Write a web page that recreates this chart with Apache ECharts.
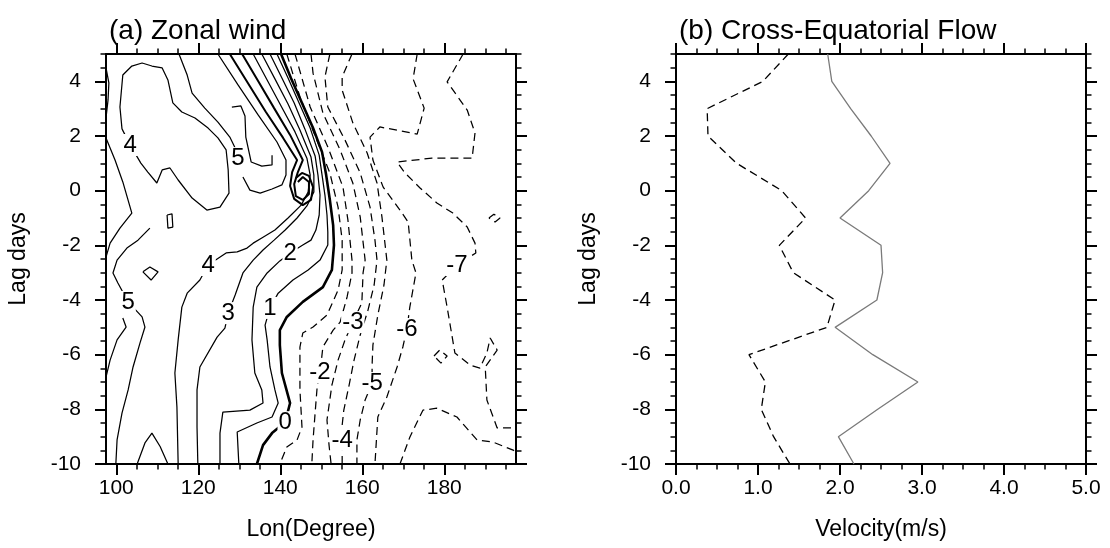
<!DOCTYPE html>
<html><head><meta charset="utf-8">
<script src="https://cdn.jsdelivr.net/npm/echarts@6/dist/echarts.min.js"></script>
<style>html,body{margin:0;padding:0;background:#fff}#c{width:1110px;height:548px}</style>
</head><body><div id="c"></div>
<script>
// ---------- tick labels ----------
const lonTicks = [100, 120, 140, 160, 180];
const lagTicks = [-10, -8, -6, -4, -2, 0, 2, 4];
const velTicks = [0, 1, 2, 3, 4, 5];

// ---------- panel (b): cross-equatorial flow ----------
const lagDays    = [5, 4, 3, 2, 1, 0, -1, -2, -3, -4, -5, -6, -7, -8, -9, -10];
const flowDashed = [1.37, 1.06, 0.38, 0.39, 0.74, 1.29, 1.58, 1.26, 1.43, 1.94, 1.84, 0.89, 1.09, 1.04, 1.19, 1.39];
const flowSolid  = [1.85, 1.90, 2.13, 2.38, 2.61, 2.35, 2.00, 2.50, 2.52, 2.45, 1.94, 2.40, 2.95, 2.46, 1.98, 2.17];

// ---------- panel (a): zonal wind contour lines [lon, lag] ----------
const c0 = [[140.2,5],[142.6,4.12],[145.3,3.21],[148.0,2.29],[150.2,1.41],[151.2,0.57],[152.1,-0.34],[152.9,-1.26],[153.1,-1.99],[152.6,-2.90],[150.4,-3.53],[145.5,-4.07],[141.6,-4.62],[139.9,-5.10],[139.9,-5.65],[140.4,-6.67],[142.4,-7.77],[141.2,-8.47],[138.0,-8.87],[135.8,-9.31],[134.3,-10]];
const c1 = [[139.2,5],[141.9,4.12],[144.6,3.21],[147.3,2.29],[149.5,1.30],[150.2,0.57],[150.9,-0.16],[151.4,-0.89],[151.6,-1.51],[151.6,-1.99],[149.7,-2.54],[146.8,-2.90],[143.1,-3.27],[139.5,-3.75],[137.5,-4.29],[136.3,-4.92],[136.8,-5.46],[137.5,-6.45],[138.7,-7.29],[139.5,-7.77],[138.0,-8.28],[134.3,-8.50],[129.5,-8.83],[129.7,-9.42],[129.9,-10]];
const c2 = [[137.5,5],[140.4,4.12],[143.4,3.21],[146.0,2.26],[148.5,1.27],[149.2,0.57],[149.7,-0.16],[149.5,-0.89],[148.7,-1.44],[147.5,-1.81],[145.5,-1.99],[142.4,-2.28],[139.9,-2.57],[136.8,-3.01],[134.3,-3.53],[133.4,-4.26],[133.1,-5.46],[133.8,-6.67],[135.5,-7.29],[135.8,-7.77],[132.6,-8.03],[126.0,-8.10],[125.3,-8.87],[125.3,-10]];
const c3 = [[135.5,5],[138.7,4.09],[141.9,3.17],[144.8,2.22],[147.5,1.23],[148.2,0.57],[148.2,-0.05],[146.5,-0.56],[144.1,-1.0],[141.2,-1.44],[138.5,-1.81],[135.8,-2.17],[133.4,-2.54],[130.9,-3.01],[129.0,-3.82],[127.3,-4.48],[126.5,-5.03],[124.6,-5.36],[120.4,-6.45],[119.7,-7.29],[119.7,-8.65],[119.9,-10]];
const c4 = [[133.4,5],[136.8,4.05],[140.2,3.10],[143.6,2.15],[146.5,1.19],[147.3,0.57],[146.8,-0.05],[145.1,-0.53],[141.9,-1.0],[138.7,-1.44],[135.5,-1.73],[133.4,-1.92],[131.9,-2.10],[129.5,-2.24],[126.8,-2.28],[122.4,-2.72],[120.4,-3.27],[117.3,-3.75],[116.0,-4.26],[115.1,-5.46],[114.3,-6.67],[114.8,-7.92],[115.1,-10]];
const c5 = [[130.7,5],[134.6,4.01],[138.5,3.02],[142.4,2.04],[145.5,1.12],[144.3,0.68],[143.4,0.24],[143.8,-0.20],[145.5,-0.34],[147.0,-0.12],[147.0,0.32],[145.5,0.50],[144.3,0.32]];
const c6 = [[127.7,5],[132.1,3.94],[136.5,2.88],[140.7,1.93],[144.1,1.12],[142.9,0.68],[142.4,0.17],[143.4,-0.30],[145.5,-0.53],[147.5,-0.34],[148.0,0.13],[147.0,0.54],[145.3,0.65],[143.8,0.46]];
const c7 = [[124.8,5],[129.7,3.87],[134.6,2.77],[139.2,1.78],[141.4,1.12],[141.4,0.57],[140.4,0.21],[138.0,0.06],[135.1,-0.09],[132.6,0.02],[130.9,0.50]];
const c5top = [[115.3,5],[117.3,4.23],[118.5,3.57],[121.6,3.02],[124.8,2.51],[127.7,1.96],[129.0,1.56]];
const c4loop = [[101.4,2.26],[100.9,3.06],[101.6,4.23],[103.8,4.56],[106.3,4.67],[108.7,4.56],[111.2,4.49],[112.6,4.05],[113.8,3.21],[116.0,2.88],[119.2,2.66],[122.4,2.29],[124.8,1.93],[126.8,1.49],[127.3,0.76],[127.5,-0.09],[125.3,-0.60],[122.1,-0.71],[118.5,-0.27],[115.1,0.39],[113.1,0.83],[111.2,0.76],[109.9,0.28],[107.7,0.68],[106.0,1.01],[104.1,1.49],[103.4,1.67],[101.4,2.26]];
const c5small = [[128.2,3.06],[130.4,3.10],[131.4,2.73],[131.6,1.96],[132.9,1.05],[135.5,0.90],[138.0,0.94],[138.0,1.30]];
const cArc = [[97.5,4.49],[98.2,3.94],[98.0,3.32],[97.5,2.66]];
const cW1 = [[97.5,1.93],[99.7,1.12],[101.6,0.32],[103.8,-0.82],[100.9,-1.37],[98.5,-1.92],[97.5,-2.43]];
const cW2 = [[108.2,-1.37],[105.3,-1.81],[102.6,-2.10],[100.2,-2.54],[99.2,-3.01],[100.4,-3.38],[102.9,-4.07],[106.3,-4.62],[107.0,-4.99],[105.8,-5.57],[104.1,-6.45],[102.9,-7.29],[101.4,-8.14],[100.2,-9.12],[99.9,-10]];
const cW3 = [[101.6,-4.66],[102.4,-4.99],[100.2,-5.46],[98.5,-6.20],[97.5,-6.82]];
const cHump = [[105.1,-10],[107.0,-9.23],[108.7,-8.87],[110.7,-9.36],[112.6,-10]];
const cDiamond = [[106.5,-2.97],[108.2,-2.79],[110.2,-2.97],[108.5,-3.27],[106.5,-2.97]];
const cRect = [[112.4,-0.89],[113.6,-0.85],[113.8,-1.33],[112.6,-1.37],[112.4,-0.89]];
const d1 = [[141.6,5],[144.8,3.43],[148.9,1.85],[152.1,0.65],[154.1,-0.60],[155.1,-1.81],[155.1,-2.90],[154.1,-3.64],[151.4,-4.55],[148.0,-4.99],[145.5,-5.21],[144.8,-5.72],[144.8,-7.29],[145.3,-8.65],[144.1,-9.12],[141.6,-9.38],[139.9,-10]];
const d2 = [[143.6,5],[147.3,3.06],[151.6,1.60],[155.3,0.13],[156.5,-1.07],[157.5,-2.54],[157.5,-3.01],[156.3,-3.89],[154.6,-4.81],[152.9,-5.10],[150.4,-5.72],[149.7,-6.64],[149.0,-7.18],[148.5,-8.14],[148.0,-9.12],[147.7,-10]];
const d3 = [[147.5,5],[148.0,4.30],[150.4,2.84],[154.6,1.49],[157.7,0.28],[159.5,-0.96],[160.7,-2.54],[160.2,-3.01],[159.9,-4.11],[157.7,-4.81],[155.8,-5.46],[154.1,-6.20],[152.6,-7.11],[151.4,-8.39],[151.9,-9.31],[152.4,-10]];
const d4 = [[152.1,5],[150.9,4.16],[151.6,3.06],[155.8,1.85],[159.5,0.65],[161.9,-0.60],[163.1,-1.81],[163.6,-2.54],[162.9,-3.45],[161.4,-4.37],[159.5,-5.28],[158.0,-6.20],[156.8,-7.11],[155.5,-8.03],[155.1,-8.58],[155.1,-9.12],[155.1,-10]];
const d5 = [[157.5,5],[155.1,4.16],[155.1,3.68],[157.7,2.48],[161.2,1.38],[163.6,0.28],[164.8,-0.96],[166.0,-2.54],[165.3,-3.45],[163.8,-4.55],[162.6,-5.65],[162.4,-6.38],[162.4,-7.04],[160.7,-7.66],[159.5,-8.39],[158.7,-9.12],[158.7,-10]];
const d6 = [[173.4,5],[172.4,4.09],[175.1,3.02],[173.4,2.07],[164.3,2.33],[161.9,1.96],[162.6,1.12],[165.1,0.13],[169.2,-0.71],[171.2,-1.15],[172.1,-2.54],[173.1,-3.01],[171.6,-4.26],[170.9,-5.06],[169.9,-5.72],[168.5,-6.45],[166.0,-7.55],[163.8,-8.28],[163.1,-10]];
const d7 = [[184.6,5],[180.7,3.98],[185.6,2.95],[187.5,2.11],[186.8,1.19],[177.0,1.19],[168.5,1.05],[170.4,0.65],[174.1,0.10],[178.2,-0.45],[182.1,-0.82],[185.6,-1.33],[187.5,-1.92],[187.7,-2.28],[183.1,-2.72],[179.5,-3.27],[180.7,-4.26],[182.6,-5.94],[186.3,-6.38],[188.7,-6.49],[190.4,-5.94],[191.2,-5.39],[192.9,-5.83],[190.0,-6.45],[190.4,-7.66],[192.9,-8.68],[196.8,-8.68],[197.5,-8.65]];
const d7b = [[169.2,-10],[171.6,-9.02],[174.8,-8.03],[178.2,-7.96],[183.1,-8.28],[188.0,-9.12],[191.9,-9.20],[196.8,-9.49],[197.5,-9.57]];
const ds1 = [[190.9,-1.0],[192.1,-0.86],[193.6,-1.0],[192.4,-1.15],[190.9,-1.0]];
const ds2 = [[177.5,-6.05],[178.9,-5.83],[180.7,-6.05],[179.2,-6.31],[177.5,-6.05]];

// contour level of each line (sign picks the style)
const contourLines = [
  [0, c0], [1, c1], [2, c2], [3, c3], [4, c4], [5, c5], [6, c6], [7, c7],
  [5, c5top], [4, c4loop], [5, c5small], [5, cArc], [4, cW1], [5, cW2], [5, cW3],
  [5, cHump], [5, cDiamond], [5, cRect],
  [-1, d1], [-2, d2], [-3, d3], [-4, d4], [-5, d5], [-6, d6], [-7, d7], [-7, d7b], [-7, ds1], [-7, ds2]
];
const boldLines = [c5, c6];
// contour labels [lon, lag, text]
const contourLabels = [
  [103.4,1.67,'4'], [129.7,1.19,'5'], [102.9,-4.07,'5'], [122.4,-2.72,'4'], [127.3,-4.48,'3'],
  [142.4,-2.28,'2'], [137.5,-4.29,'1'], [141.2,-8.47,'0'], [149.7,-6.64,'-2'], [157.7,-4.81,'-3'],
  [155.1,-9.12,'-4'], [162.4,-7.04,'-5'], [170.9,-5.06,'-6'], [183.1,-2.72,'-7']
];

// ---------- layout / style ----------
const FONT = 'Liberation Sans, Arial, Helvetica, sans-serif';
function steps(a, b, s) { const r = []; for (let v = a; v <= b + 1e-9; v += s) r.push(+v.toFixed(4)); return r; }
const lonMinor = steps(100, 195, 5);
const lagMinor = steps(-10, 5, 0.5);
const velMinor = steps(0, 5, 0.25);

function axisSet(dim, grid, min, max, majors, minors, fmt, name) {
  const mainPos = dim === 'x' ? 'bottom' : 'left';
  const otherPos = dim === 'x' ? 'top' : 'right';
  const base = { type: 'value', gridIndex: grid, min: min, max: max, splitLine: { show: false }, minorTick: { show: false } };
  const tickMain = { show: true, customValues: majors, length: 11, inside: false, lineStyle: { color: '#000', width: 2 } };
  const tickMinor = { show: true, customValues: minors, length: 5.5, inside: false, lineStyle: { color: '#000', width: 1.5 } };
  const line = { show: true, onZero: false, lineStyle: { color: '#000', width: 2 } };
  const noLine = { show: false, onZero: false };
  const main = Object.assign({}, base, {
    position: mainPos, axisLine: line, axisTick: tickMain,
    axisLabel: { show: true, customValues: majors, formatter: fmt, fontSize: 21, color: '#000', fontFamily: FONT, margin: dim === 'x' ? 14 : 25 },
    name: name, nameLocation: 'middle', nameGap: dim === 'x' ? 54 : 76,
    nameTextStyle: { fontSize: 23, color: '#000', fontFamily: FONT }
  });
  if (dim === 'y') main.nameRotate = 90;
  const mainMinor = Object.assign({}, base, { position: mainPos, axisLine: noLine, axisTick: tickMinor, axisLabel: { show: false } });
  const other = Object.assign({}, base, { position: otherPos, axisLine: line, axisTick: tickMain, axisLabel: { show: false } });
  const otherMinor = Object.assign({}, base, { position: otherPos, axisLine: noLine, axisTick: tickMinor, axisLabel: { show: false } });
  return [main, mainMinor, other, otherMinor];
}

const xAxes = axisSet('x', 0, 97.5, 197.5, lonTicks, lonMinor, v => String(v), 'Lon(Degree)')
  .concat(axisSet('x', 1, 0, 5, velTicks, velMinor, v => v.toFixed(1), 'Velocity(m/s)'));
const yAxes = axisSet('y', 0, -10, 5, lagTicks, lagMinor, v => String(v), 'Lag days')
  .concat(axisSet('y', 1, -10, 5, lagTicks, lagMinor, v => String(v), 'Lag days'));

const series = [];
contourLines.forEach(([lev, pts]) => {
  series.push({
    type: 'line', xAxisIndex: 0, yAxisIndex: 0, data: pts, symbol: 'none', showSymbol: false,
    silent: true, animation: false, clip: true, z: 2,
    lineStyle: {
      color: '#000',
      width: lev === 0 ? 2.6 : (boldLines.indexOf(pts) >= 0 ? 2 : 1.25),
      type: lev < 0 ? [8, 5] : 'solid'
    }
  });
});
series.push({
  type: 'scatter', xAxisIndex: 0, yAxisIndex: 0, z: 5, silent: true, animation: false,
  data: contourLabels.map(l => [l[0], l[1], l[2]]),
  symbolSize: 0, itemStyle: { color: '#000' },
  label: {
    show: true, position: 'inside', formatter: p => p.value[2], opacity: 1,
    fontSize: 24, color: '#000', fontFamily: FONT, backgroundColor: '#fff',
    textBorderWidth: 0, padding: [0, 1], lineHeight: 22
  }
});
series.push({
  type: 'line', xAxisIndex: 4, yAxisIndex: 4, symbol: 'none', animation: false, silent: true, z: 3,
  data: lagDays.map((d, i) => [flowDashed[i], d]),
  lineStyle: { color: '#000', width: 1.3, type: [8, 5] }
});
series.push({
  type: 'line', xAxisIndex: 4, yAxisIndex: 4, symbol: 'none', animation: false, silent: true, z: 3,
  data: lagDays.map((d, i) => [flowSolid[i], d]),
  lineStyle: { color: '#7a7a7a', width: 1.3 }
});

const chart = echarts.init(document.getElementById('c'), null, { renderer: 'canvas' });
chart.setOption({
  backgroundColor: '#fff',
  animation: false,
  title: [
    { text: '(a) Zonal wind', left: 104, top: 12, textStyle: { fontSize: 28, fontWeight: 'normal', color: '#000', fontFamily: FONT } },
    { text: '(b) Cross-Equatorial Flow', left: 674, top: 12, textStyle: { fontSize: 28, fontWeight: 'normal', color: '#000', fontFamily: FONT } }
  ],
  grid: [
    { left: 106, top: 54, width: 410, height: 410, containLabel: false },
    { left: 676, top: 54, width: 410, height: 410, containLabel: false }
  ],
  xAxis: xAxes,
  yAxis: yAxes,
  series: series
});
</script></body></html>
